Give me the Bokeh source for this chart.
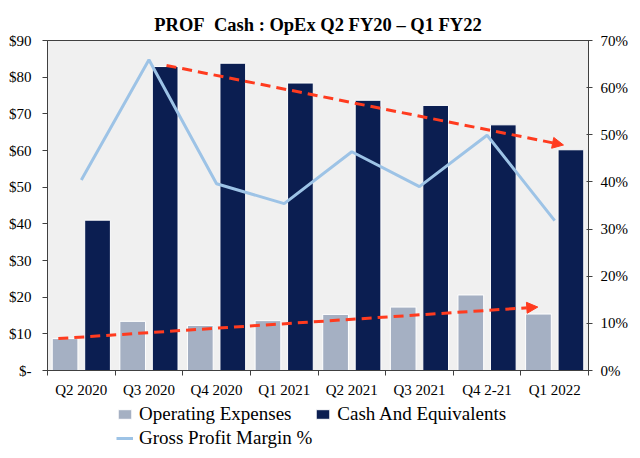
from bokeh.plotting import figure
from bokeh.layouts import column
from bokeh.models import (Range1d, LinearAxis, FixedTicker, Legend, LegendItem,
                          Arrow, NormalHead, CustomJSTickFormatter)
from bokeh.embed import file_html
from bokeh.resources import INLINE

# ---------------- data ----------------
categories = ["Q2 2020", "Q3 2020", "Q4 2020", "Q1 2021",
              "Q2 2021", "Q3 2021", "Q4 2-21", "Q1 2022"]
opex = [8.7, 13.4, 12.3, 13.6, 15.3, 17.3, 20.6, 15.4]          # $M
cash = [41.0, 82.9, 83.8, 78.4, 73.7, 72.3, 67.0, 60.2]         # $M
gross_margin = [40.4, 65.9, 39.6, 35.4, 46.4, 39.0, 49.9, 31.8]  # %
left_ticks = [0, 10, 20, 30, 40, 50, 60, 70, 80, 90]
right_ticks = [0, 10, 20, 30, 40, 50, 60, 70]
# trend arrows: (category position, $ value) start -> end
cash_trend_x = [1.76, 7.63]
cash_trend_y = [83.2, 61.5]
opex_trend_x = [0.16, 7.25]
opex_trend_y = [8.7, 17.3]

n = len(categories)
centers = [i + 0.5 for i in range(n)]
opex_x = [i + 0.26 for i in range(n)]
cash_x = [i + 0.74 for i in range(n)]

SERIF = "Liberation Serif"
OPEX_C = "#a5b0c3"
CASH_C = "#0b1e51"
GPM_C = "#9dc3e6"
RED = "#ff3b1f"

p = figure(width=632, height=400, x_range=Range1d(0, n), y_range=Range1d(0, 90),
           output_backend="svg", toolbar_location=None,
           min_border_left=47, min_border_right=44, min_border_top=40,
           min_border_bottom=28,
           background_fill_color="#f0f0f0", border_fill_color="white")
p.extra_y_ranges = {"pct": Range1d(0, 70)}
p.xgrid.visible = False
p.ygrid.visible = False
p.outline_line_color = "#404040"
p.outline_line_width = 1

p.title.text = "PROF\u00a0 Cash : OpEx Q2 FY20 \u2013 Q1 FY22"
p.title.text_font = SERIF
p.title.text_font_style = "bold"
p.title.text_font_size = "18.5px"
p.title.text_color = "black"
p.title.align = "center"
p.title.vertical_align = "top"
p.title.standoff = 8

# bars
r_opex = p.vbar(x=opex_x, top=opex, width=0.38, bottom=0,
                fill_color=OPEX_C, line_color="white", line_width=1)
r_cash = p.vbar(x=cash_x, top=cash, width=0.38, bottom=0,
                fill_color=CASH_C, line_color="white", line_width=1)

# gross margin line
r_gpm = p.line(x=centers, y=gross_margin, y_range_name="pct",
               line_color=GPM_C, line_width=3)

# trend arrows
for xs, ys in ((cash_trend_x, cash_trend_y), (opex_trend_x, opex_trend_y)):
    p.add_layout(Arrow(x_start=xs[0], y_start=ys[0], x_end=xs[1], y_end=ys[1],
                       line_color=RED, line_width=3, line_dash="10 6",
                       end=NormalHead(size=11, fill_color=RED, line_color=RED,
                                      line_width=1)))

# x axis
xa = p.xaxis[0]
xa.ticker = FixedTicker(ticks=centers, minor_ticks=list(range(n + 1)))
xa.formatter = CustomJSTickFormatter(args=dict(labels=categories),
                                     code="return labels[Math.round(tick - 0.5)] || '';")
xa.major_tick_out = 0
xa.major_tick_in = 0
xa.minor_tick_out = 5
xa.minor_tick_in = 0
xa.minor_tick_line_color = "#404040"
xa.axis_line_color = "#404040"
xa.major_label_text_font = SERIF
xa.major_label_text_font_size = "15px"
xa.major_label_text_color = "black"
xa.major_label_standoff = 6

# left axis
ya = p.yaxis[0]
ya.ticker = FixedTicker(ticks=left_ticks, minor_ticks=[])
ya.formatter = CustomJSTickFormatter(code="return tick == 0 ? '$-' : '$' + tick.toFixed(0);")
ya.major_tick_out = 5
ya.major_tick_in = 0
ya.major_tick_line_color = "#404040"
ya.axis_line_color = "#404040"
ya.major_label_text_font = SERIF
ya.major_label_text_font_size = "15px"
ya.major_label_text_color = "black"
ya.major_label_standoff = 11

# right axis
ra = LinearAxis(y_range_name="pct", ticker=FixedTicker(ticks=right_ticks, minor_ticks=[]),
                formatter=CustomJSTickFormatter(code="return tick.toFixed(0) + '%';"))
ra.major_tick_out = 4
ra.major_tick_in = 2
ra.major_tick_line_color = "#404040"
ra.axis_line_color = "#404040"
ra.major_label_text_font = SERIF
ra.major_label_text_font_size = "15px"
ra.major_label_text_color = "black"
ra.major_label_standoff = 8
p.add_layout(ra, "right")

# legend in its own strip below the chart (proxy glyphs lie outside its view)
lg = figure(width=632, height=56, x_range=Range1d(0, 1), y_range=Range1d(0, 1),
            output_backend="svg", toolbar_location=None,
            x_axis_location=None, y_axis_location=None,
            min_border_left=47, min_border_right=44,
            min_border_top=0, min_border_bottom=0,
            outline_line_color=None, background_fill_color="white",
            border_fill_color="white")
lg.xgrid.visible = False
lg.ygrid.visible = False
l_opex = lg.vbar(x=[-5], top=[-5], bottom=[-6], width=0.1,
                 fill_color=OPEX_C, line_color="white", line_width=1)
l_cash = lg.vbar(x=[-5], top=[-5], bottom=[-6], width=0.1,
                 fill_color=CASH_C, line_color="white", line_width=1)
l_gpm = lg.line(x=[-5, -4], y=[-5, -5], line_color=GPM_C, line_width=3)

legend = Legend(items=[LegendItem(label="Operating Expenses", renderers=[l_opex]),
                       LegendItem(label="Cash And Equivalents", renderers=[l_cash]),
                       LegendItem(label="Gross Profit Margin %", renderers=[l_gpm])],
                orientation="horizontal", ncols=2, location=(69, 7),
                border_line_color=None, background_fill_alpha=0,
                label_text_font=SERIF, label_text_font_size="19px",
                label_text_color="black",
                glyph_width=17, glyph_height=12, label_standoff=6,
                label_height=20, spacing=2, padding=0, margin=0)
lg.add_layout(legend, "center")

open("out.html", "w").write(file_html(column(p, lg, spacing=0), INLINE))
